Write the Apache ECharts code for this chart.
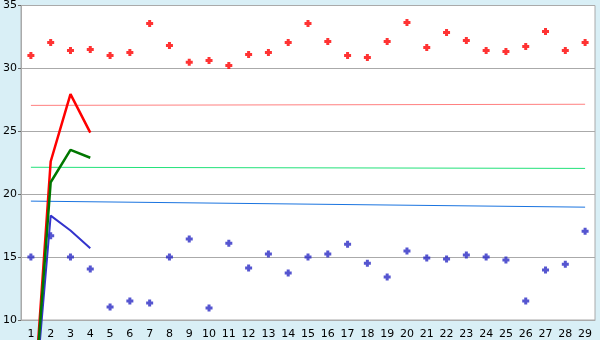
<!DOCTYPE html>
<html>
<head>
<meta charset="utf-8">
<script src="https://cdn.jsdelivr.net/npm/echarts@6/dist/echarts.min.js"></script>
<style>
html,body{margin:0;padding:0;background:#d9eff6;}
#c{width:600px;height:340px;}
</style>
</head>
<body>
<div id="c"></div>
<script>
const categories = ['1','2','3','4','5','6','7','8','9','10','11','12','13','14','15','16','17','18','19','20','21','22','23','24','25','26','27','28','29'];
const redPoints = [31.03,32.06,31.43,31.51,31.03,31.27,33.57,31.83,30.48,30.63,30.24,31.11,31.27,32.06,33.57,32.14,31.03,30.87,32.14,33.65,31.67,32.86,32.22,31.43,31.35,31.75,32.94,31.43,32.06];
const bluePoints = [15.0,16.69,15.0,14.05,11.03,11.51,11.35,15.0,16.43,10.95,16.11,14.13,15.24,13.73,15.0,15.24,16.03,14.52,13.41,15.48,14.92,14.84,15.16,15.0,14.76,11.51,13.97,14.44,17.06];
const redLine = [0, 22.6, 27.96, 24.9];
const greenLine = [0, 20.95, 23.52, 22.9];
const blueLine = [0, 18.3, 17.11, 15.71];
const pinkTrend = [27.06, 27.15];
const greenTrend = [22.14, 22.05];
const blueTrend = [19.45, 18.97];
const yTicks = [10, 15, 20, 25, 30, 35];

const plus = 'path://M2,0H5V2H7V5H5V7H2V5H0V2H2Z';
const last = categories.length - 1;
function trend(v){ return [[0, v[0]], [last, v[1]]]; }

const chart = echarts.init(document.getElementById('c'));
chart.setOption({
  animation: false,
  backgroundColor: '#d9eff6',
  grid: {left: 20, top: 5, right: 5, bottom: 20, show: true, backgroundColor: '#ffffff', borderColor: '#aaaaaa', borderWidth: 1},
  xAxis: {
    type: 'category', data: categories, boundaryGap: true,
    axisLine: {lineStyle: {color: '#aaaaaa', width: 1}},
    axisTick: {alignWithLabel: true, length: 5, lineStyle: {color: '#666666'}},
    axisLabel: {color: '#000', fontFamily: 'DejaVu Sans', fontSize: 11, margin: 9, interval: 0},
    splitLine: {show: false}
  },
  yAxis: {
    type: 'value', min: yTicks[0], max: yTicks[yTicks.length-1], interval: 5,
    axisLine: {show: true, lineStyle: {color: '#aaaaaa'}},
    axisTick: {show: true, length: 3, lineStyle: {color: '#666666'}},
    axisLabel: {color: '#000', fontFamily: 'DejaVu Sans', fontSize: 11, margin: 4},
    splitLine: {lineStyle: {color: '#aaaaaa', width: 1}}
  },
  series: [
    {type: 'line', data: trend(pinkTrend), symbol: 'none', lineStyle: {color: '#ff8080', width: 1}, z: 2},
    {type: 'line', data: trend(greenTrend), symbol: 'none', lineStyle: {color: '#22e27a', width: 1}, z: 2},
    {type: 'line', data: trend(blueTrend), symbol: 'none', lineStyle: {color: '#1a74e0', width: 1}, z: 2},
    {type: 'scatter', data: redPoints, symbol: plus, symbolSize: 7, itemStyle: {color: '#ff0000'}, z: 3},
    {type: 'scatter', data: bluePoints, symbol: plus, symbolSize: 7, itemStyle: {color: '#2a2ac4'}, z: 3},
    {type: 'line', data: blueLine, symbol: 'none', clip: false, lineStyle: {color: '#3333cc', width: 2}, z: 4},
    {type: 'line', data: redLine, symbol: 'none', clip: false, lineStyle: {color: '#ff0000', width: 2.5}, z: 4},
    {type: 'line', data: greenLine, symbol: 'none', clip: false, lineStyle: {color: '#007700', width: 2.5}, z: 5}
  ]
});
</script>
</body>
</html>
